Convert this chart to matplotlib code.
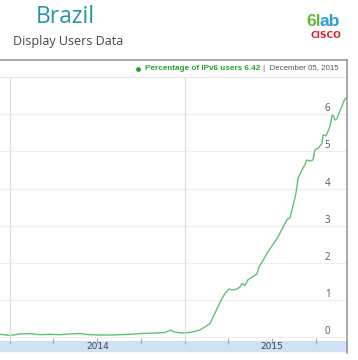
import datetime as dt

import numpy as np
import matplotlib.pyplot as plt
import matplotlib.dates as mdates
from matplotlib.lines import Line2D
from matplotlib.patches import Rectangle


# days since 2014-01-01 and percentage of IPv6 users
DAYS = [-21, 0, 21, 42, 63, 83, 104, 125, 146, 167, 188, 209, 229, 250, 271,
        292, 313, 323, 334, 344, 355, 365, 375, 386, 396, 407, 417, 428, 438,
        448, 457, 463, 474, 480, 484, 490, 496, 505, 515, 519, 528, 538, 546,
        557, 567, 578, 584, 590, 596, 601, 609, 615, 619, 626, 632, 636, 644,
        651, 653, 659, 663, 667, 672, 674, 678, 682, 686, 692, 697, 701, 703]
PCT = [0.08, 0.05, 0.09, 0.10, 0.07, 0.08, 0.07, 0.09, 0.10, 0.07, 0.06, 0.06,
       0.07, 0.08, 0.10, 0.11, 0.12, 0.13, 0.19, 0.14, 0.12, 0.12, 0.13, 0.16,
       0.20, 0.28, 0.37, 0.66, 0.94, 1.17, 1.30, 1.27, 1.30, 1.36, 1.45, 1.39,
       1.54, 1.62, 1.70, 1.88, 2.07, 2.30, 2.45, 2.65, 2.90, 3.17, 3.21, 3.52,
       3.84, 4.28, 4.50, 4.64, 4.77, 4.74, 4.77, 5.04, 5.10, 5.22, 5.44, 5.42,
       5.53, 5.66, 5.97, 5.97, 5.84, 5.88, 6.02, 6.20, 6.37, 6.44, 6.42]
YEARS = [2014, 2015]
Y_TICKS = [0, 1, 2, 3, 4, 5, 6]

W, H = 358, 360
START = dt.date(2014, 1, 1)
dates = [START + dt.timedelta(days=d) for d in DAYS]

fig = plt.figure(figsize=(W / 100, H / 100), dpi=100)
plt.rcParams['font.family'] = ['Open Sans', 'DejaVu Sans']
renderer = fig.canvas.get_renderer()


def px(x, y):
    return x / W, 1 - y / H


def fit(t, width):
    # shrink/grow text so that it spans about `width` pixels
    w = t.get_window_extent(renderer).width
    t.set_fontsize(t.get_fontsize() * width / w)
    return t


# header texts
fig.text(*px(65, 17), "Brazil", color="#2596a8", fontsize=16.5,
         ha="center", va="center")
fig.text(*px(13, 41), "Display Users Data", color="#444444", fontsize=9,
         ha="left", va="center")
fig.text(*px(321, 21), "6l", color="#6cb33f", fontsize=12.5,
         fontweight="bold", ha="right", va="center", family="Liberation Sans")
fig.text(*px(320, 21), "ab", color="#2f9fd8", fontsize=12.5,
         fontweight="bold", ha="left", va="center", family="Liberation Sans")
fig.text(*px(326, 35), "CISCO", color="#d81e2c", fontsize=6.5,
         fontweight="bold", ha="center", va="center", family="DejaVu Sans")

# chart frame
fig.add_artist(Line2D([0, 347 / W], [1 - 60 / H] * 2, color="#9a9a9a", lw=1.2))
fig.add_artist(Line2D([347 / W] * 2, [1 - 60 / H, 1 - 353 / H],
                      color="#9a9a9a", lw=1.2))
fig.add_artist(Rectangle(px(0, 351), 347 / W, 10 / H, color="#cfe1f5",
                         zorder=0))

green = fig.text(*px(260, 69), "Percentage of IPv6 users %.2f" % PCT[-1],
                 color="#2ea02e", fontsize=6, fontweight="bold", ha="right",
                 va="center", family="Liberation Sans")
fit(green, 117)
date_t = fig.text(*px(263, 69), "|  December 05, 2015", color="#555555",
                  fontsize=6, ha="left", va="center", family="Liberation Sans")
fit(date_t, 77)
fig.add_artist(Line2D([(260 - 117 - 5) / W], [1 - 69 / H], marker="o",
                      markersize=2.5, color="#2ea02e", lw=0))

ax = fig.add_axes([0, 1 - 341 / H, 347 / W, (341 - 77) / H])
ax.plot(dates, PCT, color="#5cc27a", lw=1.0)

ax.set_xlim(dates[0], dates[-1])
ax.set_ylim(-0.1, 7.0)

for s in ax.spines.values():
    s.set_visible(False)

ax.set_yticks(Y_TICKS)
ax.yaxis.tick_right()
ax.tick_params(axis="y", length=0, pad=-12, labelsize=7, labelcolor="#555555")
for lab in ax.get_yticklabels():
    lab.set_horizontalalignment("right")
    lab.set_verticalalignment("bottom")
ax.grid(axis="y", color="#eeeeee", lw=0.8)
ax.axhline(7.0, color="#e8e8e8", lw=0.8)

for yr in YEARS:
    ax.axvline(dt.date(yr, 1, 1), color="#dddddd", lw=0.9)

ax.xaxis.set_major_locator(mdates.MonthLocator(bymonth=[1, 4, 7, 10]))
ax.xaxis.set_major_formatter(plt.NullFormatter())
ax.set_xticks([dt.date(y, 7, 2) for y in YEARS], minor=True)
ax.set_xticklabels([str(y) for y in YEARS], minor=True)
ax.tick_params(axis="x", which="major", direction="inout", length=5,
               color="#aaaaaa", width=0.8)
ax.tick_params(axis="x", which="minor", length=0, pad=1, labelsize=6.5,
               labelcolor="#444444")
for lab in ax.get_xticklabels(minor=True):
    lab.set_family("DejaVu Sans")

fig.savefig("out.png", dpi=100)
